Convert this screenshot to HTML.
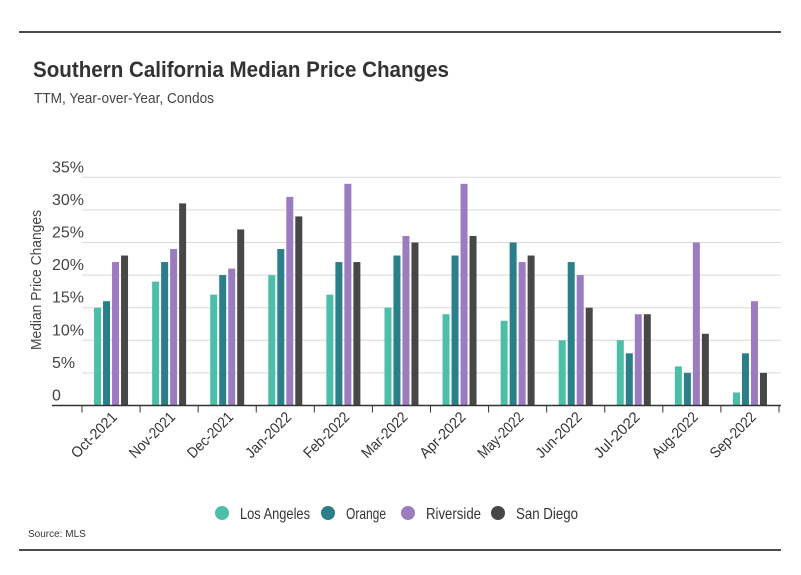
<!DOCTYPE html>
<html><head><meta charset="utf-8"><style>
body{margin:0;background:#fff;}
svg{display:block;font-family:"Liberation Sans",sans-serif;}
</style></head><body>
<svg id="chart" width="801" height="575" viewBox="0 0 801 575">
<line x1="19" y1="32" x2="781" y2="32" stroke="#111" stroke-width="1.5"/>
<text x="33" y="77" font-size="22" font-weight="bold" fill="#333" textLength="416" lengthAdjust="spacingAndGlyphs">Southern California Median Price Changes</text>
<text x="34" y="103" font-size="15" fill="#444" textLength="180" lengthAdjust="spacingAndGlyphs">TTM, Year-over-Year, Condos</text>
<text transform="translate(41,280) rotate(-90)" text-anchor="middle" font-size="15" fill="#444" textLength="140" lengthAdjust="spacingAndGlyphs">Median Price Changes</text>
<g id="grid"></g><g id="bars"></g><g id="xaxis"></g>
<g id="legend"></g>
<text x="28" y="537" font-size="10" fill="#333">Source:  MLS</text>
<line x1="19" y1="550" x2="781" y2="550" stroke="#111" stroke-width="1.5"/>
</svg>
<script>
const categories=["Oct-2021","Nov-2021","Dec-2021","Jan-2022","Feb-2022","Mar-2022","Apr-2022","May-2022","Jun-2022","Jul-2022","Aug-2022","Sep-2022"];
const seriesNames=["Los Angeles","Orange","Riverside","San Diego"];
const losAngeles=[15,19,17,20,17,15,14,13,10,10,6,2];
const orange=[16,22,20,24,22,23,23,25,22,8,5,8];
const riverside=[22,24,21,32,34,26,34,22,20,14,25,16];
const sanDiego=[23,31,27,29,22,25,26,23,15,14,11,5];
const yTicks=[0,5,10,15,20,25,30,35];
const yTickLabels=["0","5%","10%","15%","20%","25%","30%","35%"];
const series=[losAngeles,orange,riverside,sanDiego];
const colors=["#4dbfa8","#2a7f8a","#9b7cbf","#474747"];
const NS="http://www.w3.org/2000/svg";
const x0=82,x1=779,yBase=405.5,yTop=177.3,yMax=35;
const band=(x1-x0)/categories.length;
const y=v=>yBase-(v/yMax)*(yBase-yTop);
const xc=i=>x0+band*(i+0.5);
function mk(tag,attrs,parent){const e=document.createElementNS(NS,tag);for(const k in attrs)e.setAttribute(k,attrs[k]);parent.appendChild(e);return e;}
const grid=document.getElementById('grid');
yTicks.forEach((t,i)=>{
  if(t>0){const l=mk('line',{x1:x0,x2:781,y1:y(t),y2:y(t),stroke:'#d9d9d9','stroke-width':1},grid);
  
  }
  const tx=mk('text',{x:52,y:y(t)-5,'font-size':16,fill:'#444'},grid);
  tx.textContent=yTickLabels[i];
  
  
});
const bars=document.getElementById('bars');
const bw=7,gap=2;
categories.forEach((c,i)=>{
  const start=xc(i)-(4*bw+3*gap)/2;
  series.forEach((s,j)=>{
    const r=mk('rect',{x:start+j*(bw+gap),y:y(s[i]),width:bw,height:yBase-y(s[i]),fill:colors[j]},bars);
    
    
  });
});
const xa=document.getElementById('xaxis');
const ax=mk('line',{x1:52,x2:781,y1:yBase,y2:yBase,stroke:'#333','stroke-width':1.5},xa);


for(let i=0;i<=categories.length;i++){
  const tk=mk('line',{x1:x0+band*i,x2:x0+band*i,y1:yBase,y2:yBase+7,stroke:'#333','stroke-width':1},xa);
  
  
}
categories.forEach((c,i)=>{
  const tx=mk('text',{transform:`translate(${x0+band*i+36},418) rotate(-45)`,'text-anchor':'end','font-size':15,fill:'#333',textLength:58,lengthAdjust:'spacingAndGlyphs'},xa);
  tx.textContent=c;
  
  
});
const lg=document.getElementById('legend');
const lx=[222,328,408,498];
const lw=[70,40,55,62];
seriesNames.forEach((n,j)=>{
  const ci=mk('circle',{cx:lx[j],cy:513,r:7,fill:colors[j]},lg);
  
  
  const tx=mk('text',{x:lx[j]+18,y:519,'font-size':16,fill:'#333',textLength:lw[j],lengthAdjust:'spacingAndGlyphs'},lg);
  tx.textContent=n;
  
  
});
</script>
</body></html>
